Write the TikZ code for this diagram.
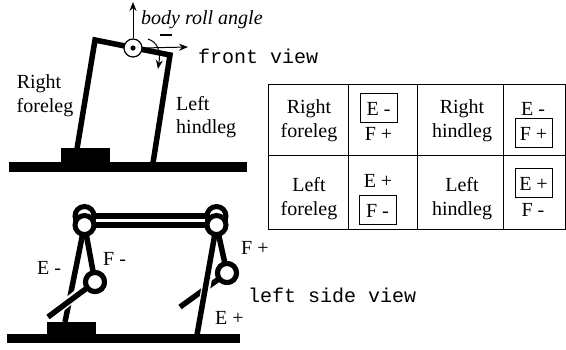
\documentclass[tikz,border=0pt]{standalone}
\usepackage{fontspec}
\setmainfont{Liberation Serif}
\setmonofont{Liberation Mono}
\usetikzlibrary{arrows.meta}
\tikzset{
  lab/.style={anchor=base,inner sep=0pt,font=\fontsize{20}{24}\selectfont},
  labl/.style={lab,anchor=base west},
  mono/.style={labl,font=\fontsize{20}{24}\selectfont\ttfamily},
  ital/.style={labl,font=\fontsize{20}{24}\selectfont\itshape},
  boxed/.style={lab,draw,line width=0.9pt,text height=15pt,text depth=0pt,inner ysep=7pt,inner xsep=0pt,minimum width=37pt},
  limb/.style={line width=5.5pt,line cap=butt,line join=miter},
  halo/.style={white},
  joint/.style={circle,draw,line width=5pt,fill=white,inner sep=0pt,outer sep=0pt,minimum size=19pt},
  axis/.style={line width=1pt,-{Stealth[length=9pt,width=7pt]}},
  grid/.style={line width=0.9pt}
}
\begin{document}
\begin{tikzpicture}[x=1pt,y=-1pt]
\useasboundingbox (0,0) rectangle (566,349);
\fill[white] (0,0) rectangle (566,349);

% front view
\coordinate (fl) at (77,149);
\coordinate (ft) at (95,40);
\coordinate (hf) at (170,55);
\coordinate (hb) at (153,163);
\fill (9,162) rectangle (247,172);
\fill (61,148) rectangle (110,163);
\draw[limb] (fl) -- (ft) -- (hf) -- (hb);
\node[circle,draw,line width=1.2pt,fill=white,inner sep=0pt,minimum size=18pt] (roll) at (133,48) {};
\fill (roll.center) circle (2.6);
\draw[axis] (roll.north) -- (133,2);
\draw[axis] (roll.east) -- (188,47);
\draw[line width=1pt,-{Stealth[length=9pt,width=7pt]}] (148,39) .. controls (157,42) and (161,50) .. (158,69);
\draw[line width=1.8pt] (160,35) -- (172,35);
\node[ital] (tbody) at (141,24) {body roll angle};
\node[mono] (tfront) at (198,63) {front view};
\node[lab] (t1) at (39,88) {Right};
\node[lab] (t2) at (45,112) {foreleg};
\node[labl] (t3) at (176,110) {Left};
\node[labl] (t4) at (176,133) {hindleg};

% table
\draw[grid] (268,84) rectangle (565,229);
\draw[grid] (268,155) -- (565,155);
\draw[grid] (348,84) -- (348,229);
\draw[grid] (417,84) -- (417,229);
\draw[grid] (503,84) -- (503,229);
\node[lab] (rf1) at (309,113) {Right};
\node[lab] (rf2) at (309,137) {foreleg};
\node[lab] (rh1) at (462,113) {Right};
\node[lab] (rh2) at (462,137) {hindleg};
\node[lab] (lf1) at (309,191) {Left};
\node[lab] (lf2) at (309,215) {foreleg};
\node[lab] (lh1) at (462,191) {Left};
\node[lab] (lh2) at (462,215) {hindleg};
\node[boxed] (a1) at (378.5,115) {E -};
\node[lab] (a2) at (378.5,140) {F +};
\node[lab] (b1) at (533,115) {E -};
\node[boxed] (b2) at (533.5,140) {F +};
\node[lab] (c1) at (378,187) {E +};
\node[boxed] (c2) at (377.5,217) {F -};
\node[boxed] (d1) at (533.5,190) {E +};
\node[lab] (d2) at (533,216) {F -};

% side view
\fill (7,334) rectangle (240,343);
\fill (47,322) rectangle (96,334);
\coordinate (lhip) at (84.5,225);
\coordinate (lhipb) at (84.5,216);
\coordinate (rhip) at (216.5,225);
\coordinate (rhipb) at (216.5,216);
\coordinate (lfoot) at (65,322);
\coordinate (rfoot) at (197,335);
\coordinate (ltip) at (48,317);
\coordinate (rtip) at (180,307);
\node[joint] (lknee) at (95,282) {};
\node[joint] (rknee) at (227,273) {};
\draw[limb] (rknee) -- (rtip);
\draw[limb,line width=6pt] (lhipb) -- (rhipb);
\draw[limb,line width=6pt] (lhip) -- (rhip);
\node[joint] (lh2j) at (lhipb) {};
\node[joint] (rh2j) at (rhipb) {};
\draw[halo,line width=9pt] (214,240) -- (200,322);
\draw[limb] (rhip) -- (rfoot);
\draw[limb] (lhip) -- (lfoot);
\draw[limb] (lhip) -- (lknee);
\draw[limb] (rhip) -- (rknee);
\draw[halo,line width=9pt] (85,288) -- (55,312);
\draw[limb] (lknee) -- (ltip);
\node[joint] (lk2) at (lknee) {};
\node[joint] (rk2) at (rknee) {};
\node[joint] (lh1j) at (lhip) {};
\node[joint] (rh1j) at (rhip) {};
\node[labl] (te1) at (37,274) {E -};
\node[labl] (tf1) at (103,265) {F -};
\node[labl] (tf2) at (241,254) {F +};
\node[labl] (te2) at (215,324) {E +};
\node[mono] (tleft) at (248,302) {left side view};
\end{tikzpicture}
\end{document}
